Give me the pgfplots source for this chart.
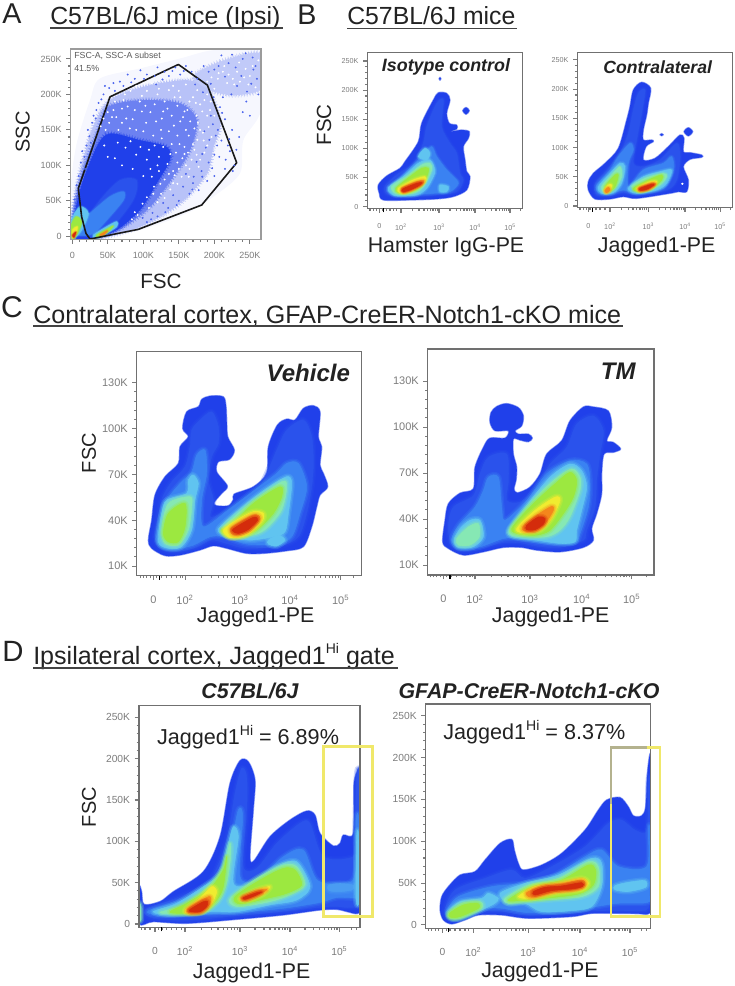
\documentclass[border=0pt]{standalone}
\usepackage{fontspec}
\setmainfont{Liberation Sans}
\usepackage{pgfplots}
\pgfplotsset{compat=1.18}

\definecolor{lv1}{HTML}{2040EA}
\definecolor{lv2}{HTML}{2A52EC}
\definecolor{lv3}{HTML}{3A82F2}
\definecolor{lv34}{HTML}{4A9CF2}
\definecolor{lv4}{HTML}{60C4F0}
\definecolor{lv5}{HTML}{86E8B4}
\definecolor{lv6}{HTML}{9CE840}
\definecolor{lv7}{HTML}{F0EC30}
\definecolor{lv8}{HTML}{F4861C}
\definecolor{lv9}{HTML}{D42C0C}
\definecolor{framegrey}{HTML}{707070}
\definecolor{tickgrey}{HTML}{7C7C7C}
\definecolor{ink}{HTML}{222222}
\definecolor{gatey}{HTML}{F0E86A}
\definecolor{gatedim}{HTML}{B4B28E}

% one density level: filled, with a soft edge
\def\hw{1}
\newcommand{\lv}[2]{%
  \addplot[draw=lv#1,draw opacity=0.22,line width={\hw*4.5pt},line join=round,smooth cycle] coordinates {#2};
  \addplot[draw=lv#1,draw opacity=0.35,line width={\hw*2.5pt},line join=round,smooth cycle] coordinates {#2};
  \addplot[fill=lv#1,draw=lv#1,line width=0.4pt,line join=round,smooth cycle] coordinates {#2};}
% outermost contour, sharper edge
\newcommand{\lo}[1]{\addplot[fill=lv1,draw=lv1,draw opacity=0.5,line width=1pt,line join=round,smooth cycle] coordinates {#1};}
% cloud of panel A: fill, with a faintly stippled edge
\newcommand{\st}[3]{%
  \addplot[draw=#2,draw opacity=0.6,line width=4pt,dash pattern=on 0.5pt off 1.7pt,smooth cycle] coordinates {#3};
  \addplot[draw=#2,draw opacity=0.8,line width=2pt,dash pattern=on 0.9pt off 1.1pt,smooth cycle] coordinates {#3};
  \addplot[fill=#1,draw=none,smooth cycle] coordinates {#3};}
\newcommand{\fpx}[1]{\fontsize{#1}{#1}\selectfont}
\newcommand{\hi}[1]{\raisebox{0.42em}{\fontsize{#1}{#1}\selectfont Hi}}
\newcommand{\T}[4][]{\node[inner sep=0pt,text=ink,#1] at ({#2*0.75pt},{-#3*0.75pt}) {#4};}
\newcommand{\U}[3]{\draw[ink!85,line width=0.9pt] ({#1*0.75pt},{-#3*0.75pt}) -- ({#2*0.75pt},{-#3*0.75pt});}

\pgfplotsset{
  panel/.style n args={4}{at={({#1*0.75pt},{-#2*0.75pt})},anchor=north west,width={#3*0.75pt},height={#4*0.75pt}},
  facs/.style={scale only axis,axis on top,tick align=outside,tick pos=left,
    axis line style={draw=framegrey,line width=0.9pt},
    tick style={draw=tickgrey,line width=0.8pt},
    major tick length=3.2pt,minor tick length=1.8pt,
    tick label style={text=tickgrey},
    extra x tick labels={},
    extra x tick style={major tick length=3pt,tick style={draw=black,line width=1.2pt}}},
  kticks/.style={ytick={0,50,100,150,200,250},yticklabels={0,50K,100K,150K,200K,250K},minor y tick num=4},
  cticks/.style={ytick={10,40,70,100,130},yticklabels={10K,40K,70K,100K,130K},minor y tick num=4},
}

\begin{document}
\begin{tikzpicture}
\path[use as bounding box] (0,0) rectangle (551.25pt,-739.5pt);

% ---------- A
\begin{axis}[panel={70.7}{49}{190.3}{190.3},facs,
  xmin=-2.2,xmax=265.7,ymin=-4.2,ymax=264,
  xtick={0,50,100,150,200,250},xticklabels={0,50K,100K,150K,200K,250K},minor x tick num=4,
  kticks,
  tick label style={font=\fpx{6.75}},xticklabel shift=3pt,
  axis line style={draw=framegrey!70,line width=1pt}]
\addplot[fill=lv1!4!white,draw=none,smooth cycle] coordinates {(-2.3,4.1)(-2.3,69.9)(6.2,130.9)(25,191.9)(39,222.5)(95.4,236.6)(151.7,250.6)(198.7,262.4)(265.8,262.4)(265.8,177.9)(240.9,135.6)(236.2,88.7)(198.7,55.8)(161.1,32.3)(95.4,8.8)(29.7,-4.3)};
\st{lv1!32!white}{lv1!36!white}{(-0.9,4.1)(8.5,79.3)(29.7,154.4)(53.1,191.9)(100.1,210.7)(161.1,220.1)(191.6,206)(208.1,159.1)(198.7,126.2)(189.3,88.7)(151.7,46.4)(95.4,13.5)(29.7,-3.4)}
\st{lv1!28!white}{lv1!32!white}{(170.5,224.8)(208.1,246)(265.8,257.7)(265.8,208.4)(226.9,199)(194,206)}
\st{lv1!66!white}{lv1!66!white}{(-0.9,1.8)(10.9,79.3)(34.4,145)(50.8,182.6)(100.1,191.9)(151.7,187.3)(175.2,163.8)(165.8,121.5)(142.3,84)(109.5,41.7)(71.9,13.5)(29.7,-2.4)}
\st{lv1}{lv1!90!white}{(0.5,1.8)(10.9,65.2)(34.4,126.2)(53.1,145)(95.4,135.6)(133,126.2)(137.6,107.4)(118.9,74.6)(95.4,37)(62.5,8.8)(29.7,-2.4)}
% speckle read by eye: sparse events outside the dense cloud
\addplot[only marks,mark=*,mark size=0.5pt,color=lv1!80!white] coordinates {
(14,120)(22,150)(30,170)(18,95)(9,85)(26,132)(37,188)(44,200)(60,205)(72,212)(88,222)(105,228)(118,214)(130,232)(145,238)(168,232)
(195,170)(205,150)(210,135)(222,120)(228,100)(215,95)(200,85)(190,78)(178,65)(165,60)(150,50)(135,40)(120,28)(105,20)(200,115)(188,125)
(175,105)(160,88)(170,75)(182,92)(208,182)(215,165)(225,150)(235,140)(240,175)(245,190)(252,215)(258,240)(262,200)(250,170)(255,235)
(240,250)(225,256)(210,255)(200,235)(185,240)(230,238)(215,225)(195,215)(176,222)(212,196)(198,158)(186,148)(204,128)(216,108)(192,104)
(171,84)(156,70)(142,58)(128,47)(113,33)(99,26)(238,226)(246,204)(220,244)(206,240)(192,232)(232,212)(224,200)(260,222)(254,252)(244,258)
(34,178)(28,160)(20,128)(12,104)(6,72)(3,52)(46,212)(58,216)(78,228)(96,234)(116,226)(136,226)(152,228)(160,240)(120,238)
(17,112)(24,141)(33,166)(41,193)(52,209)(67,218)(83,217)(101,222)(127,221)(141,233)(157,233)(173,214)(184,203)(199,196)(211,174)(221,137)
(207,112)(197,96)(183,84)(169,66)(147,44)(131,34)(111,24)(183,116)(193,136)(202,142)(219,128)(231,122)(226,92)};
% speckle read by eye: gaps in the cloud
\addplot[only marks,mark=*,mark size=0.5pt,color=white] coordinates {
(70,180)(95,190)(120,200)(150,205)(165,190)(175,170)(180,150)(170,130)(155,110)(160,150)(140,170)(110,175)(85,165)(65,150)(125,150)(140,130)
(150,95)(130,80)(115,70)(105,55)(125,60)(142,75)(165,95)(175,115)(185,135)(190,170)(195,190)(130,190)(105,205)(82,205)(60,190)(50,175)
(40,155)(148,184)(136,148)(118,162)(98,176)(152,162)(164,142)(146,118)(134,102)(122,92)(112,84)(158,126)(172,152)(186,118)(178,98)(168,108)
(154,84)(138,66)(120,48)(108,40)(92,30)(84,24)(196,140)(200,170)(190,200)(176,206)(160,214)(142,212)(112,216)(90,212)(74,200)(56,168)(47,150)
(144,196)(128,176)(104,160)(90,150)(114,142)(128,126)(148,142)(166,162)(180,186)(158,176)(122,112)(108,122)(142,92)(176,136)(192,154)(76,166)
(220,228)(235,245)(250,226)(205,222)(190,218)(258,210)(244,236)(228,214)(214,240)(200,208)(262,248)(236,218)
(78,183)(88,178)(103,184)(116,186)(126,166)(134,180)(143,156)(156,168)(162,178)(170,196)(183,176)(177,160)(163,118)(151,130)(138,116)(126,138)
(116,128)(100,148)(81,152)(70,160)(58,178)(148,104)(160,100)(172,122)(184,146)(190,128)(180,108)(164,84)(148,74)(136,88)(124,74)(114,60)
(99,46)(88,34)(130,54)(144,86)(158,116)(194,178)(186,192)(174,188)(152,196)(136,206)(122,208)(98,198)(72,192)(62,168)(52,160)(44,166)
(212,232)(226,222)(242,224)(254,240)(232,232)(206,230)(196,224)(248,214)(218,216)
(60,110)(75,125)(90,115)(105,108)(120,100)(100,85)(85,95)(70,100)(50,112)(45,128)(110,95)(64,132)(82,134)(96,126)};
\addplot[fill=lv2,draw=lv2,draw opacity=.4,line width=1.5pt,smooth cycle] coordinates {(10.9,8.8)(39,51.1)(67.2,79.3)(90.7,79.3)(86,51.1)(53.1,8.8)(29.7,-1.5)};
\lv{3}{(3.8,13.5)(25,32.3)(53.1,55.8)(71.9,62.8)(71.9,51.1)(48.4,22.9)(29.7,4.1)(8.5,1.8)}
\lv{4}{(-0.9,22.9)(10.9,41.7)(22.6,32.3)(13.2,8.8)(3.8,-1.5)(-0.9,-1.5)}
\lv{4}{(29.7,1.8)(48.4,13.5)(62.5,20.6)(62.5,13.5)(43.7,1.8)(32,-2.4)}
\def\hw{0.5}
\lv{6}{(-1.8,13.5)(5.2,27.6)(13.2,20.6)(7.1,4.1)(0.5,-3.4)}
\lv{6}{(34.4,1.8)(50.8,11.2)(57.8,14.5)(48.4,5.1)(36.7,-1.5)}
\lv{7}{(0.5,9)(7.1,13.5)(5.2,4.1)(0.5,-2.4)}
\lv{8}{(39,1.8)(49.4,7.9)(43.7,1.8)}
\lv{9}{(0.5,1.8)(5.2,6)(2.4,-1.5)}
\addplot[black!90,line width=1.2pt,line join=round] coordinates {(8.5,67.5)(53.1,196.6)(149.4,242.2)(190.2,213.1)(231.5,103.7)(182.2,44.1)(93,9.8)(25,-3.8)(19.3,4.2)(13.2,27.6)(8.5,67.5)};
\end{axis}

% ---------- B, isotype
\def\hw{0.7}
\begin{axis}[panel={367.3}{52.7}{155.4}{155.6},facs,
  xmin=232,xmax=698,ymin=-2.9,ymax=264.3,
  xtick={268,333,447,555,660},xticklabels={0,10\textsuperscript{2},10\textsuperscript{3},10\textsuperscript{4},10\textsuperscript{5}},
  minor xtick={240,250,260,278,290,300,310,320,367,387,402,413,422,429,436,442,480,499,512,522,531,538,545,550,587,605,618,628,637,644,650,655,690},
  extra x ticks={280},kticks,
  tick label style={font=\fpx{5.4}},xticklabel shift=5pt]
\lo{(265,37.2)(290,52.6)(330,65.8)(345,77.2)(385,111.5)(395,143)(430,183)(445,195.6)(470,194.5)(480,183)(470,160.2)(478,143)(500,140.1)(500,133.3)(480,128.7)(515,131.6)(538,128.7)(535,117.3)(520,103)(525,80.1)(530,60.1)(540,51.5)(530,28.6)(490,17.2)(440,13.2)(360,11.4)(280,11.4)(268,22.9)}
\lo{(518,164.7)(528,170.5)(538,164.7)(528,158.4)}
\lo{(447,219.6)(450,222)(453,219.6)(450,217)}
\lv{2}{(285,34.3)(320,54.3)(370,74.4)(400,108.7)(410,137.3)(440,177.3)(460,183)(455,137.3)(480,108.7)(500,91.5)(510,57.2)(520,45.8)(500,25.7)(440,20)(360,17.2)(295,20)}
\lv{3}{(300,31.5)(340,54.3)(385,80.1)(400,88.7)(425,103)(440,85.8)(470,62.9)(490,51.5)(505,40)(480,25.7)(430,22.9)(350,20)(305,22.9)}
\lv{4}{(295,33.2)(340,51.5)(385,74.4)(420,80.1)(435,62.9)(430,51.5)(410,31.5)(380,20)(320,18.3)(300,24)}
\lv{4}{(385,85.8)(405,100.1)(420,91.5)(410,80.1)}
\lv{4}{(450,37.2)(475,34.3)(470,25.7)(450,25.7)}
\lv{5}{(305,34.3)(350,51.5)(395,71.5)(420,74.4)(425,62.9)(400,34.3)(370,22.9)(320,21.7)}
\lv{6}{(318,31.5)(360,51.5)(395,65.8)(415,65.8)(410,51.5)(385,31.5)(355,24)(325,24)}
\lv{7}{(325,31.5)(370,45.8)(405,51.5)(405,42.9)(380,31.5)(345,22.9)(328,24.6)}
\lv{8}{(335,31.5)(380,42.9)(402,44.6)(395,37.2)(365,28.6)(340,24)}
\lv{9}{(338,30.3)(380,40)(396,41.2)(385,35.5)(360,28.6)(340,25.7)}
\end{axis}

% ---------- B, contralateral
\begin{axis}[panel={577.3}{52.3}{155.4}{155.4},facs,
  xmin=862,xmax=1328,ymin=-2.9,ymax=263,
  xtick={895,960,1075,1185,1290},xticklabels={0,10\textsuperscript{2},10\textsuperscript{3},10\textsuperscript{4},10\textsuperscript{5}},
  minor xtick={870,880,890,900,918,930,945,995,1015,1029,1040,1050,1057,1064,1070,1108,1127,1141,1152,1161,1168,1174,1180,1217,1235,1248,1258,1267,1274,1280,1285,1320},
  extra x ticks={908},kticks,
  tick label style={font=\fpx{5.4}},xticklabel shift=5pt]
\lo{(895,41.7)(910,55.9)(945,73.1)(985,98.7)(1010,147.3)(1020,170.1)(1030,198.6)(1055,211.8)(1082,201.5)(1075,175.8)(1070,155.8)(1060,130.1)(1060,113)(1085,113)(1090,110.2)(1068,101.6)(1060,78.8)(1095,81.6)(1135,101.6)(1170,121.6)(1182,115.9)(1180,93)(1200,91.3)(1235,87.3)(1235,83.3)(1200,79.9)(1180,67.4)(1195,44.5)(1190,24.5)(1165,24.5)(1140,21.7)(1040,13.1)(1000,16)(960,12)(915,12)(895,27.4)}
\lo{(1195,134.1)(1208,127.3)(1195,119.9)(1182,127.3)}
\lo{(1110,122)(1115,124)(1120,122)(1115,120)}
\lv{2}{(915,38.8)(950,61.6)(990,90.2)(1015,124.4)(1030,164.4)(1045,192.9)(1065,198.6)(1055,158.7)(1040,113)(1030,73.1)(1060,67.4)(1110,78.8)(1160,107.3)(1170,84.5)(1160,44.5)(1130,27.4)(1040,18.8)(1000,22.8)(960,17.1)(920,18.8)}
\lv{3}{(920,36)(960,61.6)(985,84.5)(1020,107.3)(1030,95.9)(1015,73.1)(1015,33.1)(1060,61.6)(1120,73.1)(1145,84.5)(1150,61.6)(1120,30.3)(1040,21.7)(1000,27.4)(960,20.5)(925,22.8)}
\lv{4}{(925,33.1)(960,55.9)(990,73.1)(1005,67.4)(995,38.8)(970,22.8)(935,21.7)}
\lv{4}{(1015,30.3)(1060,50.2)(1110,58.8)(1145,61.6)(1130,38.8)(1100,27.4)(1040,21.7)}
\lv{5}{(935,33.1)(965,53.1)(990,67.4)(995,50.2)(975,30.3)(945,22.8)}
\lv{5}{(1025,33.1)(1065,47.4)(1120,55.9)(1130,50.2)(1110,36)(1060,24.5)}
\lv{6}{(945,33.1)(975,53.1)(985,53.1)(975,33.1)(955,24.5)}
\lv{6}{(1030,30.3)(1075,44.5)(1115,53.1)(1115,44.5)(1085,30.3)(1045,24.5)}
\lv{7}{(943,27.4)(955,36)(965,36)(960,26.3)(948,21.7)}
\lv{7}{(1040,30.3)(1080,41.7)(1100,41.7)(1085,30.3)(1050,24.5)}
\lv{8}{(945,26.3)(955,32)(960,27.4)(950,22.8)}
\lv{8}{(1045,30.3)(1085,38.8)(1097,37.7)(1075,28.5)(1050,25.7)}
\lv{9}{(1050,30.3)(1085,37.1)(1092,36)(1070,28.5)(1052,26.8)}
\addplot[fill=white,draw=none,smooth cycle] coordinates {(1173,38)(1177,40)(1181,38)(1177,36)};
\end{axis}

% ---------- C, vehicle
\def\hw{1}
\begin{axis}[panel={136.7}{351.7}{225}{224},facs,
  xmin=140,xmax=815,ymin=3.7,ymax=150.3,
  xtick={190,285,450,600,752},xticklabels={0,10\textsuperscript{2},10\textsuperscript{3},10\textsuperscript{4},10\textsuperscript{5}},
  minor xtick={150,160,170,180,200,215,230,245,260,270,278,335,364,384,400,413,424,434,442,495,522,540,555,567,577,585,593,646,672,692,706,718,728,737,745,790},
  extra x ticks={208},cticks,
  tick label style={font=\fpx{8.25}},xticklabel shift=8pt]
\lo{(335,119.1)(360,121.3)(400,120.8)(408,114.3)(410,105.6)(413,94.7)(433,85.9)(418,79.8)(385,78.3)(380,71.7)(412,62.4)(395,57.6)(372,51.5)(380,49.5)(415,49.5)(430,53.6)(432,57.1)(490,61.9)(530,70.7)(535,88.1)(562,102.3)(590,106.2)(615,105.6)(640,113.2)(670,115)(690,111)(685,94.7)(695,88.1)(690,76.1)(700,70.7)(713,61.9)(690,56.5)(680,48.8)(665,35.7)(640,22.7)(590,20)(520,18.3)(470,18.3)(410,21.6)(370,23.3)(330,20.5)(270,17.2)(225,16.8)(185,21.6)(175,27)(185,40.1)(195,56.5)(225,68.5)(265,77.2)(270,88.1)(295,94.7)(278,100.1)(290,111)(325,114.3)}
\lv{2}{(330,105.6)(365,111)(385,101.2)(385,90.3)(365,81.6)(355,66.3)(370,53.2)(360,42.3)(395,44.5)(440,49.9)(510,61.9)(560,85.9)(590,99)(640,105.6)(665,94.7)(670,77.2)(665,61.9)(650,44.5)(625,29.2)(570,23.1)(470,21.6)(410,24.8)(365,27)(320,22.2)(260,19.4)(215,21.6)(195,29.2)(215,53.2)(245,65.2)(285,75)(300,88.1)(305,99)}
\lv{3}{(320,82.7)(345,85.9)(350,70.7)(335,53.2)(340,35.7)(420,47.7)(500,60.8)(560,70.7)(590,77.2)(625,77.2)(650,61.9)(630,44.5)(605,29.2)(560,24.4)(470,24.4)(400,29.2)(360,29.2)(310,23.7)(250,20.9)(215,22.7)(200,29.2)(225,51)(270,64.1)(305,71.7)}
\lv{4}{(310,69.6)(325,64.1)(315,53.2)(305,33.6)(275,22.7)(235,21.6)(205,25.9)(215,44.5)(230,53.2)(290,57.6)(295,66.3)}
\lv{4}{(395,36.8)(470,51)(530,60.8)(590,68.5)(605,64.1)(595,44.5)(585,32.5)(550,29.2)(480,27)(420,29.2)(385,32.5)}
\lv{4}{(535,27)(565,30.3)(585,27)(560,23.1)(535,24.4)}
\lv{5}{(235,51)(300,55.4)(305,48.8)(295,33.6)(265,23.7)(225,24.8)(215,33.6)}
\lv{5}{(410,37.9)(480,51)(575,65.2)(590,61.9)(575,46.7)(530,34.7)(490,30.3)(420,29.2)(395,32.5)}
\lv{6}{(235,44.5)(285,51)(285,35.7)(265,25.9)(235,25.9)(220,31.4)}
\lv{6}{(420,35.7)(490,51)(570,61.9)(575,55.4)(550,44.5)(500,33.6)(450,29.2)(410,30.3)(395,33.6)}
\lv{7}{(400,33.6)(440,40.1)(490,45.6)(520,44.5)(515,39)(470,30.3)(420,28.5)}
\lv{8}{(425,35.3)(490,43.4)(510,41.2)(480,33.6)(440,30.3)(425,31.4)}
\lv{9}{(432,34.7)(490,41.9)(503,40.1)(475,34)(445,31.4)(430,32.5)}
\end{axis}

% ---------- C, TM
\begin{axis}[panel={427.7}{349}{226.3}{226},facs,
  xmin=143,xmax=822,ymin=3.5,ymax=150.9,
  xtick={190,285,450,605,755},xticklabels={0,10\textsuperscript{2},10\textsuperscript{3},10\textsuperscript{4},10\textsuperscript{5}},
  minor xtick={150,160,170,180,200,215,230,245,260,270,278,335,364,384,400,413,424,434,442,497,524,543,558,571,581,590,598,650,677,695,710,722,732,740,748,800},
  extra x ticks={210},cticks,
  tick label style={font=\fpx{8.25}},xticklabel shift=8pt]
\lo{(333,109.5)(350,113.4)(380,115.3)(415,112.7)(430,107.3)(425,100.8)(405,97.6)(415,95.4)(445,95.4)(457,92.8)(445,90.4)(420,91.5)(400,92.2)(400,82.4)(410,73.8)(408,65.1)(402,59.7)(412,57.1)(450,60.8)(480,69.5)(500,82.4)(545,91.1)(570,104.1)(610,113.1)(640,113.1)(685,110.5)(695,99.7)(680,91.1)(700,90)(722,85.7)(700,83.5)(672,82.4)(665,69.5)(665,56.5)(650,43.5)(635,33.8)(640,26.2)(610,21.5)(540,18.6)(470,19.7)(425,21.5)(370,21.5)(310,18.6)(250,16.5)(205,20.8)(188,25.1)(195,39.2)(205,50)(240,56.9)(280,59.7)(285,73.8)(310,86.8)(330,92.8)(375,92.8)(385,97.6)(345,97.6)(330,103)}
\lv{2}{(325,80.3)(380,82.4)(385,65.1)(380,52.2)(420,51.1)(470,60.8)(510,75.9)(560,86.8)(590,101.9)(640,107.3)(670,97.6)(660,82.4)(650,65.1)(645,47.8)(620,32.7)(610,26.2)(540,21.5)(470,22.3)(420,24.5)(370,24.5)(310,21.5)(250,19.3)(215,23)(205,34.9)(220,47.8)(280,55.4)(300,69.5)}
\lv{3}{(325,67.3)(355,67.3)(365,47.8)(375,39.2)(440,52.2)(500,69.5)(570,78.1)(620,75.9)(630,63)(625,47.8)(600,30.5)(585,25.1)(520,24.1)(470,25.1)(420,27.3)(370,27.3)(300,21.9)(240,20.8)(215,26.2)(235,35.9)(285,47.8)(310,58.6)}
\lv{4}{(270,39.2)(300,39.2)(310,28.4)(280,21.9)(235,21.5)(222,26.2)(240,33.8)}
\lv{4}{(385,32.7)(440,48.9)(510,67.3)(570,75.9)(605,71.6)(620,60.8)(605,45.7)(590,32.7)(585,25.1)(540,24.1)(470,26.2)(400,28.4)}
\lv{5}{(265,34.9)(295,37)(298,28.4)(270,23)(235,23)(230,27.3)}
\lv{5}{(390,33.8)(450,50)(520,65.1)(575,72.7)(600,67.3)(600,58.6)(570,41.4)(540,32.7)(500,28.4)(430,28.4)(395,29.5)}
\lv{6}{(395,33.8)(455,48.9)(525,63)(570,70.5)(590,65.1)(580,54.3)(550,43.5)(510,32.7)(470,29.5)(420,30.1)}
\lv{7}{(410,33.8)(465,45.7)(525,54.3)(540,52.2)(515,40.3)(480,32.7)(430,31)}
\lv{8}{(428,34.9)(470,42.4)(515,48.3)(520,45.7)(495,37)(465,32.3)(432,32.3)}
\lv{9}{(440,35.9)(475,41.4)(495,40.3)(490,36.6)(465,33.1)(440,33.1)}
\end{axis}

% ---------- D, C57BL/6J
\begin{axis}[panel={139}{705.7}{221}{221.6},facs,
  xmin=207,xmax=870,ymin=-4,ymax=264,
  xtick={255,345,510,660,808},xticklabels={0,10\textsuperscript{2},10\textsuperscript{3},10\textsuperscript{4},10\textsuperscript{5}},
  minor xtick={215,225,240,265,278,290,305,320,335,395,424,444,460,473,484,494,502,555,582,600,615,627,637,645,653,705,731,749,763,775,785,794,801,845,860},
  extra x ticks={275},kticks,
  tick label style={font=\fpx{7.7}},xticklabel shift=8pt,
  after end axis/.code={\draw[gatey,line width=1.9pt] (axis cs:760,8.9) rectangle (axis cs:908,214.5);}]
\lo{(207,45.2)(215,39.1)(222,23.8)(270,27)(310,39.1)(400,63.3)(450,105.6)(480,170.1)(510,197.6)(535,196.4)(555,174.2)(550,137.9)(540,81.4)(552,76.6)(600,105.6)(660,125.8)(710,136.7)(735,131.8)(750,109.7)(790,94.3)(810,97.6)(820,107.7)(850,109.7)(852,170.1)(865,186.3)(872,184.3)(873,60)(873,20)(862,12.5)(835,14.5)(800,17.7)(750,16.9)(640,10.9)(500,5.6)(350,0.8)(250,2.8)(207,0.8)}
\lv{2}{(225,16.9)(330,33.1)(420,53.2)(470,101.6)(495,158.1)(515,188.3)(530,178.2)(530,133.9)(520,69.4)(560,67.3)(620,97.6)(690,121.8)(720,121.8)(760,81.4)(850,81.4)(855,105.6)(860,178.2)(868,178.2)(868,60)(866,24)(840,20)(800,21)(750,20.2)(640,14.9)(500,9.7)(350,4.8)(250,6.9)}
\lv{3}{(235,16.1)(340,29)(430,45.2)(480,93.5)(505,137.9)(518,129.8)(510,57.3)(560,53.2)(640,81.4)(700,89.5)(745,52)(850,54)(858,125.8)(866,125.8)(866,40)(860,32)(800,32)(750,26)(640,19)(500,13.7)(350,10.9)(260,10.9)}
\lv{4}{(250,14.9)(320,25)(400,45.2)(450,61.3)(475,97.6)(490,117.7)(505,105.6)(490,49.2)(550,49.2)(620,69.4)(680,75.4)(720,45.2)(680,29)(600,23)(500,14.9)(420,14.9)(300,10.9)}
\lv{34}{(775,47)(810,49)(850,47)(845,41)(800,39)(775,41)}
\lv{4}{(860,105.6)(866,105.6)(868,30)(858,30)}
\lv{5}{(270,14.1)(340,23)(420,47.2)(460,69.4)(480,97.6)(482,81.4)(470,49.2)(445,27)(400,14.9)(320,12.1)}
\lv{5}{(485,33.1)(560,55.2)(640,71.4)(680,69.4)(705,47.2)(660,35.1)(600,27)(510,21)(480,25)}
\lv{5}{(207,25)(213,21)(213,4.8)(207,4.8)}
\lv{6}{(300,14.9)(350,25)(420,43.1)(460,65.3)(470,81.4)(460,45.2)(440,29)(400,14.9)(330,12.9)}
\lv{6}{(495,33.1)(570,53.2)(640,67.3)(675,65.3)(695,47.2)(650,37.1)(590,31)(510,24.2)}
\lv{7}{(345,16.9)(390,31)(425,45.2)(440,39.1)(425,25)(395,13.7)(355,12.9)}
\lv{7}{(510,31)(560,41.1)(600,45.2)(580,36.3)(530,28.2)}
\lv{8}{(352,17.7)(395,29)(420,33.1)(420,25)(395,14.9)(358,13.7)}
\lv{8}{(515,31.9)(560,39.9)(590,41.9)(570,36.3)(530,29.8)}
\lv{9}{(360,17.7)(400,27)(413,27)(410,21)(390,14.9)(362,14.9)}
\lv{9}{(520,31.9)(560,37.9)(575,38.7)(555,34.3)(525,29.8)}
\end{axis}

% ---------- D, cKO
\begin{axis}[panel={425.7}{704}{224.6}{224.3},facs,
  xmin=122,xmax=796,ymin=-4,ymax=264,
  xtick={172,265,430,585,735},xticklabels={0,10\textsuperscript{2},10\textsuperscript{3},10\textsuperscript{4},10\textsuperscript{5}},
  minor xtick={130,140,150,160,185,195,210,225,240,250,315,344,364,380,393,404,414,422,477,504,523,538,551,561,570,578,630,657,675,690,702,712,720,728,770,785},
  extra x ticks={190},kticks,
  tick label style={font=\fpx{7.7}},xticklabel shift=8pt,
  after end axis/.code={\draw[gatey,line width=1.9pt] (axis cs:678,10) rectangle (axis cs:825,212.1);
    \draw[gatedim,line width=1.7pt] (axis cs:678,145) -- (axis cs:678,212.1) -- (axis cs:785,212.1);}]
\lo{(170,33.8)(190,45.8)(225,59.7)(270,63.7)(300,77.6)(345,97.5)(380,102.3)(388,89.6)(400,73.6)(415,65.7)(470,71.6)(530,85.6)(600,113.4)(640,137.3)(665,149.3)(705,152.4)(730,141.3)(745,130.5)(770,130.5)(782,141.3)(788,185.1)(798,199)(799,60)(799,20)(788,13)(760,13.5)(700,13.9)(620,13.9)(560,10)(430,8)(350,11.9)(280,11.9)(240,6)(200,1.2)(175,6)(165,17.9)}
\lv{2}{(180,17.9)(210,41.8)(300,55.7)(380,65.7)(420,55.7)(500,69.7)(600,93.5)(670,121.4)(710,125.4)(750,113.4)(786,113.4)(790,169.2)(794,169.2)(794,50)(790,20)(750,17)(700,17.1)(620,17.1)(560,13.9)(430,11.9)(350,15.9)(280,15.9)(240,10)(200,5.2)}
\lv{3}{(185,15.9)(220,33.8)(320,45.8)(420,49.8)(500,57.7)(600,81.6)(650,89.6)(700,69.7)(785,69.7)(790,113.4)(794,113.4)(794,40)(788,27)(700,25.9)(620,21.1)(560,17.1)(430,14.7)(350,19.9)(280,19.9)(240,13.9)(205,8)}
\lv{4}{(345,37.8)(420,49.8)(520,59.7)(620,79.6)(650,73.6)(650,45.8)(620,21.9)(560,17.1)(470,15.9)(420,25.9)(370,25.9)}
\lv{4}{(690,47)(730,51)(780,53)(782,45)(730,40)(690,42)}
\lv{4}{(190,15.9)(225,27.9)(290,31.8)(310,37.8)(340,31.8)(330,25.9)(290,17.9)(230,8)(200,8)}
\lv{5}{(190,13.9)(230,25.9)(285,27.9)(290,19.9)(225,8)(195,8)}
\lv{5}{(360,31.8)(430,47.8)(520,55.7)(610,75.6)(640,69.7)(640,45.8)(590,33.8)(480,29.8)(420,27.9)(370,25.9)}
\lv{6}{(193,13.9)(235,23.9)(278,25.9)(280,19.9)(225,10)(197,9.2)}
\lv{6}{(370,29.8)(440,45.8)(530,53.7)(610,71.6)(632,65.7)(625,47.8)(580,37)(480,31.8)(410,29.1)}
\lv{7}{(400,33.8)(450,45.8)(520,49.8)(590,55.7)(610,49.8)(590,41.8)(510,37.8)(440,31.8)}
\lv{8}{(425,38.6)(470,45.8)(530,49)(590,53.7)(600,47.8)(570,42.6)(510,39.8)(440,33)}
\lv{9}{(445,39.8)(480,45)(530,46.6)(590,50.5)(592,45.8)(560,43)(500,41)(450,35.8)}
\end{axis}

% ---------- texts
\T{12}{13.5}{\fpx{21.5}A}
\T[anchor=base west]{50}{24}{\fpx{18.6}C57BL/6J mice (Ipsi)}
\U{50}{283}{28}
\T[rotate=90]{22.7}{132}{\fpx{15}SSC}
\T{161}{281}{\fpx{15.5}FSC}
\T[anchor=west,text=ink!75]{74}{56}{\fpx{6.6}FSC-A, SSC-A subset}
\T[anchor=west,text=ink!75]{74}{68}{\fpx{6.6}41.5\%}

\T{307}{14.5}{\fpx{21.5}B}
\T[anchor=base west]{347}{24}{\fpx{18.6}C57BL/6J mice}
\U{347}{517}{28.3}
\T[rotate=90]{324}{125}{\fpx{15.4}FSC}
\T{446}{247}{\fpx{16}Hamster IgG-PE}
\T{656.7}{247}{\fpx{16}Jagged1-PE}
\T{446}{67.3}{\fpx{13.4}\bfseries\itshape Isotype control}
\T{657.7}{67.3}{\fpx{13.2}\bfseries\itshape Contralateral}

\T{12}{307.5}{\fpx{22.5}C}
\T[anchor=base west]{33}{323}{\fpx{18.8}Contralateral cortex, GFAP-CreER-Notch1-cKO mice}
\U{33}{623}{326}
\T[rotate=90]{89}{453}{\fpx{15}FSC}
\T{255.7}{616.7}{\fpx{16}Jagged1-PE}
\T{550.7}{616.7}{\fpx{16}Jagged1-PE}
\T{308.3}{373.3}{\fpx{18}\bfseries\itshape Vehicle}
\T{618.3}{371.7}{\fpx{18}\bfseries\itshape TM}

\T{13}{651.5}{\fpx{22}D}
\T[anchor=base west]{33}{664}{\fpx{18.8}Ipsilateral cortex, Jagged1\hi{10.5} gate}
\U{33}{398}{668}
\T[rotate=90]{89}{807}{\fpx{15}FSC}
\T{251.7}{972.7}{\fpx{16}Jagged1-PE}
\T{540}{971.7}{\fpx{16}Jagged1-PE}
\T{250}{690.7}{\fpx{16}\bfseries\itshape C57BL/6J}
\T{529}{690.7}{\fpx{16}\bfseries\itshape GFAP-CreER-Notch1-cKO}
\T{248}{737}{\fpx{16.2}Jagged1\hi{10.5} = 6.89\%}
\T{534.3}{731.7}{\fpx{16.2}Jagged1\hi{10.5} = 8.37\%}
\end{tikzpicture}
\end{document}
